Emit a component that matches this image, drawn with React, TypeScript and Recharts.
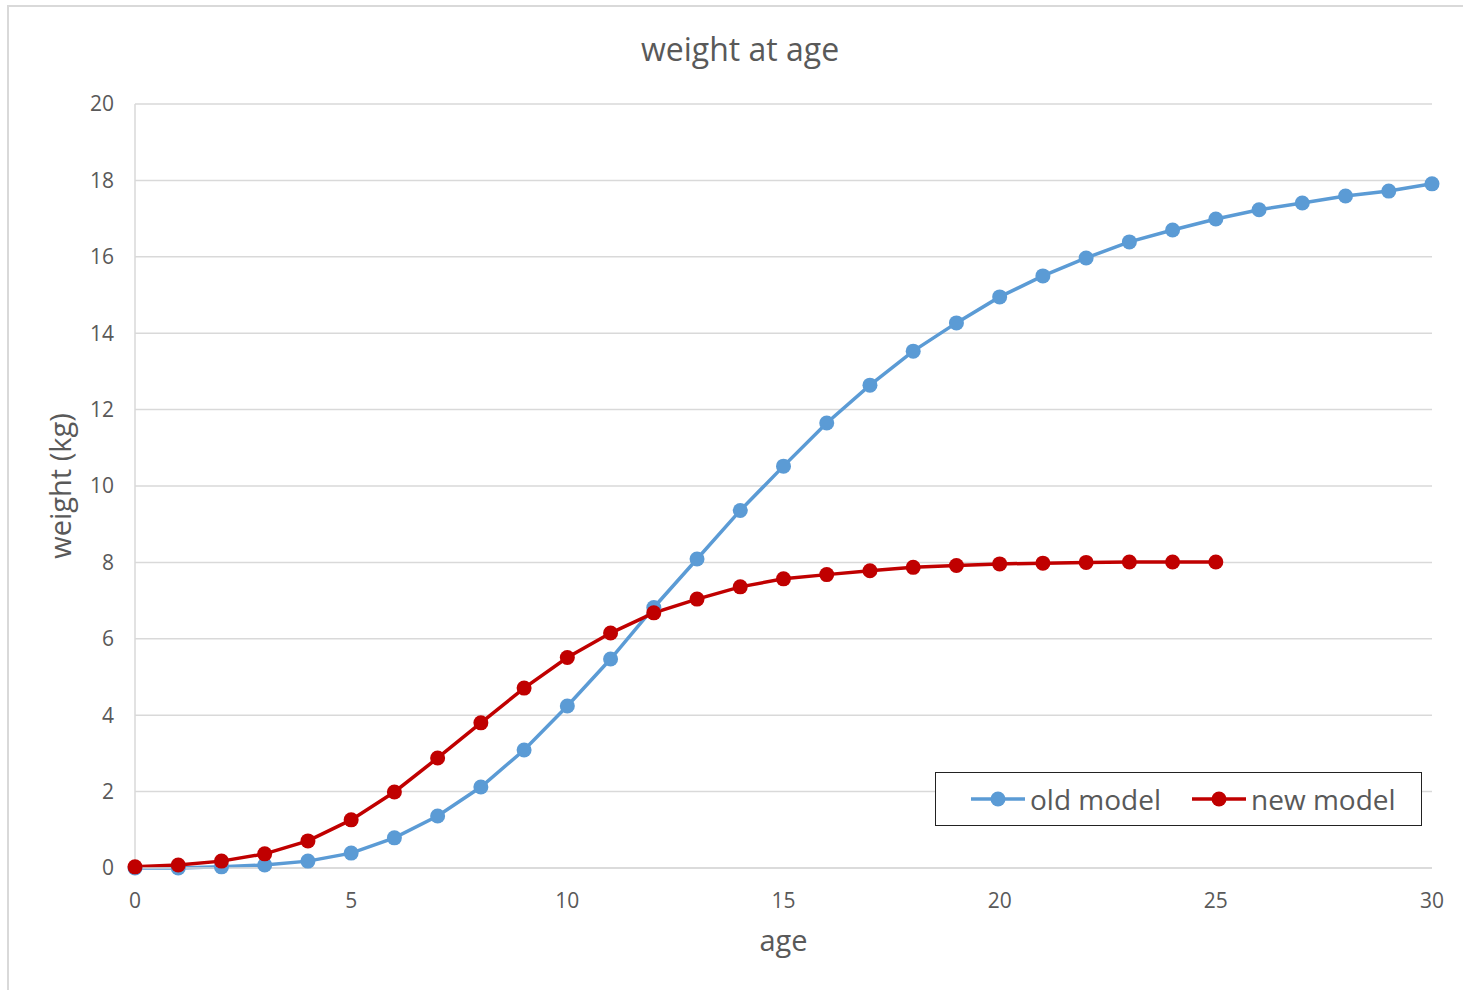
import React from "react";
import { LineChart, Line, XAxis, YAxis, CartesianGrid, Label } from "recharts";

const ages = [0, 1, 2, 3, 4, 5, 6, 7, 8, 9, 10, 11, 12, 13, 14, 15, 16, 17, 18, 19, 20, 21, 22, 23, 24, 25, 26, 27, 28, 29, 30];
const oldModel = [0, 0.0, 0.03, 0.08, 0.18, 0.39, 0.79, 1.36, 2.12, 3.09, 4.24, 5.47, 6.82, 8.09, 9.36, 10.52, 11.65, 12.64, 13.53, 14.27, 14.95, 15.5, 15.97, 16.39, 16.7, 16.99, 17.23, 17.41, 17.59, 17.72, 17.91];
const newModel = [0.03, 0.08, 0.18, 0.37, 0.71, 1.26, 1.99, 2.88, 3.8, 4.71, 5.51, 6.15, 6.68, 7.04, 7.36, 7.57, 7.68, 7.78, 7.87, 7.92, 7.96, 7.98, 8.0, 8.01, 8.01, 8.01];
const xTicks = [0, 5, 10, 15, 20, 25, 30];
const yTicks = [0, 2, 4, 6, 8, 10, 12, 14, 16, 18, 20];

const seriesNames = ["old model", "new model"];
const BLUE = "#5b9bd5";
const RED = "#c00000";
const TEXT = "#595959";
const GRID = "#d9d9d9";
const FONT = "'Open Sans', 'Noto Sans', sans-serif";

const data = ages.map((a, i) => ({
  age: a,
  old: oldModel[i],
  new: i < newModel.length ? newModel[i] : null,
}));

const LegendItem = ({ color, label }: { color: string; label: string }) => (
  <div style={{ display: "flex", alignItems: "center" }}>
    <svg width={56} height={20} style={{ display: "block" }}>
      <line x1={1} y1={10} x2={55} y2={10} stroke={color} strokeWidth={3.5} />
      <circle cx={28} cy={10} r={7.5} fill={color} />
    </svg>
    <span style={{ marginLeft: 4, fontSize: 28, color: TEXT, fontFamily: FONT, lineHeight: 1 }}>{label}</span>
  </div>
);

export default function App() {
  return (
    <div style={{ position: "absolute", left: 0, top: 0, width: 1463, height: 990, background: "#fff", overflow: "hidden" }}>
      <div style={{ position: "absolute", left: 7, top: 5, width: 1470, height: 1000, borderLeft: "2px solid #d9d9d9", borderTop: "2px solid #d9d9d9" }} />
      <div style={{ position: "absolute", left: 0, top: 27, width: 1480, textAlign: "center", fontFamily: FONT, fontSize: 32, color: TEXT, lineHeight: 1.4 }}>
        weight at age
      </div>
      <div style={{ position: "absolute", left: 0, top: 0 }}>
        <LineChart width={1463} height={990} data={data} margin={{ top: 104, right: 31, bottom: 39, left: 75 }}>
          <CartesianGrid vertical={false} stroke={GRID} strokeWidth={1.5} />
          <XAxis
            dataKey="age"
            type="number"
            domain={[0, 30]}
            ticks={xTicks}
            axisLine={{ stroke: GRID, strokeWidth: 1.5 }}
            tickLine={false}
            tick={{ fill: TEXT, fontSize: 21, fontFamily: FONT }}
            tickMargin={19}
            height={83}
          >
            <Label value="age" position="insideBottom" offset={0} style={{ fill: TEXT, fontSize: 29, fontFamily: FONT }} />
          </XAxis>
          <YAxis
            type="number"
            domain={[0, 20]}
            ticks={yTicks}
            axisLine={{ stroke: GRID, strokeWidth: 1.5 }}
            tickLine={false}
            tick={{ fill: TEXT, fontSize: 21, fontFamily: FONT }}
            tickMargin={15}
            width={60}
          >
            <Label value="weight (kg)" angle={-90} position="insideLeft" offset={-14} style={{ fill: TEXT, fontSize: 29, fontFamily: FONT, textAnchor: "middle" }} />
          </YAxis>
          <Line
            dataKey="old"
            name={seriesNames[0]}
            stroke={BLUE}
            strokeWidth={3.5}
            dot={{ r: 7.5, fill: BLUE, stroke: BLUE, strokeWidth: 0 }}
            isAnimationActive={false}
          />
          <Line
            dataKey="new"
            name={seriesNames[1]}
            stroke={RED}
            strokeWidth={3.5}
            dot={{ r: 7.5, fill: RED, stroke: RED, strokeWidth: 0 }}
            isAnimationActive={false}
          />
        </LineChart>
      </div>
      <div
        style={{
          position: "absolute",
          left: 935,
          top: 772,
          width: 487,
          height: 54,
          border: "1.5px solid #222",
          background: "#fff",
          display: "flex",
          alignItems: "center",
          justifyContent: "flex-start",
          paddingLeft: 34,
          boxSizing: "border-box",
          gap: 30,
        }}
      >
        <LegendItem color={BLUE} label={seriesNames[0]} />
        <LegendItem color={RED} label={seriesNames[1]} />
      </div>
    </div>
  );
}
